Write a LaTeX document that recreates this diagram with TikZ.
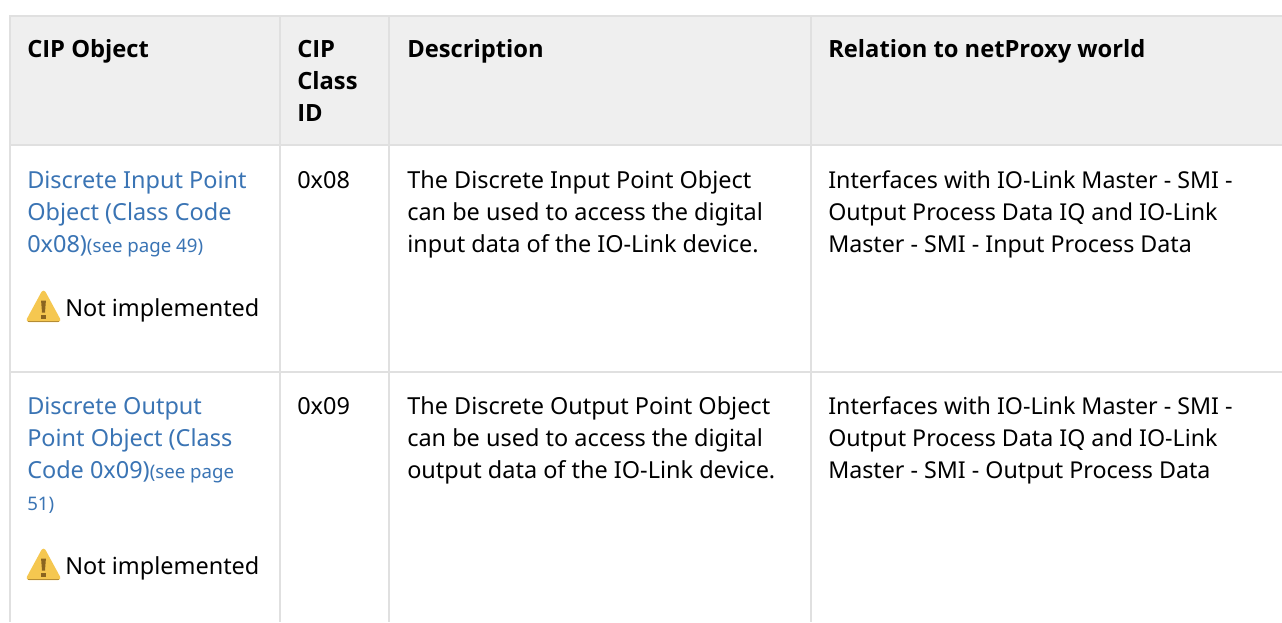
\documentclass[tikz,border=0pt]{standalone}
\usepackage{fontspec}
\setmainfont{Noto Sans}
\newfontfamily\headfamily{Open Sans}
\definecolor{rulegray}{HTML}{E0E0E0}
\definecolor{headfill}{HTML}{EFEFEF}
\definecolor{linkblue}{HTML}{3A74B4}
\definecolor{warnfill}{HTML}{F5C750}
\definecolor{warnmark}{HTML}{8A6420}
\newcommand{\bodysize}{\fontsize{17.6pt}{24pt}\selectfont}
\newcommand{\relsize}{\fontsize{17.42pt}{24pt}\selectfont}
\newcommand{\headsize}{\fontsize{17.8pt}{24pt}\selectfont}
\newcommand{\smallsize}{\fontsize{14pt}{24pt}\selectfont}
\newcommand{\firstline}{\rule{0pt}{22.5pt}}
\tikzset{
  x=0.75pt,y=-0.75pt,
  cell/.style={anchor=north west,inner sep=0pt,align=left,font=\bodysize,text=black},
  relcell/.style={cell,font=\relsize},
  head/.style={cell,font=\headfamily\headsize\bfseries},
  link/.style={cell,text=linkblue},
  gridline/.style={draw=rulegray,line width=1.5pt},
  warning/.pic={
    \filldraw[fill=warnfill,draw=warnfill,line width=3.4pt,line join=round] (-14.6,13.3) -- (0,-13.6) -- (14.6,13.3) -- cycle;
    \draw[draw=warnmark!60!warnfill,line width=0.8pt] (-15.5,15.4) -- (15.5,15.4);
    \fill[warnmark] (-2.4,-6) -- (2.4,-6) -- (1.5,6) -- (-1.5,6) -- cycle;
    \fill[warnmark] (-2.1,8) rectangle (2.1,12);
  }
}
\begin{document}
\begin{tikzpicture}
\useasboundingbox (0,0) rectangle (1282,622);
\fill[white] (0,0) rectangle (1282,622);
\fill[headfill] (10,16) rectangle (1282,145);
\draw[gridline] (1282,16) -- (10,16) -- (10,622);
\draw[gridline] (10,145) -- (1282,145);
\draw[gridline] (10,372) -- (1282,372);
\draw[gridline] (280,16) -- (280,622);
\draw[gridline] (389,16) -- (389,622);
\draw[gridline] (811,16) -- (811,622);

\node[head] (h1) at (27,27) {\firstline CIP Object};
\node[head] (h2) at (297,27) {\firstline CIP\\Class\\ID};
\node[head] (h3) at (407,27) {\firstline Description};
\node[head] (h4) at (828,27) {\firstline Relation to netProxy world};

\node[link] (a1) at (27,158) {\firstline Discrete Input Point\\Object (Class Code\\0x08){\smallsize(see page 49)}};
\pic at (43.5,306.5) {warning};
\node[cell] (a2) at (65,286) {\firstline Not implemented};
\node[cell] (b1) at (297,158) {\firstline 0x08};
\node[cell] (c1) at (407,158) {\firstline The Discrete Input Point Object\\can be used to access the digital\\input data of the IO-Link device.};
\node[relcell] (d1) at (828,158) {\firstline Interfaces with IO-Link Master - SMI -\\Output Process Data IQ and IO-Link\\Master - SMI - Input Process Data};

\node[link] (a3) at (27,384) {\firstline Discrete Output\\Point Object (Class\\Code 0x09){\smallsize(see page}\\{\smallsize 51)}};
\pic at (43.5,564.5) {warning};
\node[cell] (a4) at (65,544) {\firstline Not implemented};
\node[cell] (b2) at (297,384) {\firstline 0x09};
\node[cell] (c2) at (407,384) {\firstline The Discrete Output Point Object\\can be used to access the digital\\output data of the IO-Link device.};
\node[relcell] (d2) at (828,384) {\firstline Interfaces with IO-Link Master - SMI -\\Output Process Data IQ and IO-Link\\Master - SMI - Output Process Data};
\end{tikzpicture}
\end{document}
